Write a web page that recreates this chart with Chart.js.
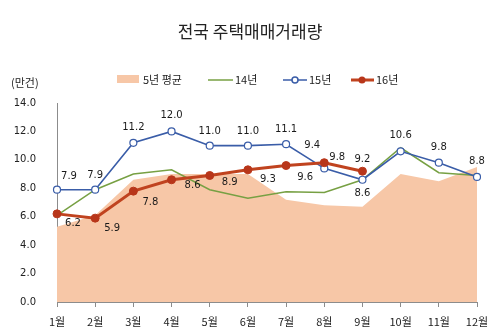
<!DOCTYPE html>
<html>
<head>
<meta charset="utf-8">
<script src="https://cdn.jsdelivr.net/npm/chart.js@4"></script>
<style>
  html, body { margin: 0; padding: 0; background: #fff; }
  #wrap { width: 500px; height: 336px; position: relative; }
</style>
</head>
<body>
<div id="wrap"><canvas id="tradeChart" width="500" height="336"></canvas></div>
<script>
// chart data (unit: 만건)
const months = ['1월', '2월', '3월', '4월', '5월', '6월', '7월', '8월', '9월', '10월', '11월', '12월'];
const avg5y = [5.3, 6.1, 8.6, 9.0, 9.0, 9.0, 7.2, 6.8, 6.7, 9.0, 8.5, 9.5];
const y2014 = [6.1, 7.9, 9.0, 9.3, 7.9, 7.3, 7.75, 7.7, 8.6, 10.85, 9.1, 8.9];
const y2015 = [7.9, 7.9, 11.2, 12.0, 11.0, 11.0, 11.1, 9.4, 8.6, 10.6, 9.8, 8.8];
const y2016 = [6.2, 5.9, 7.8, 8.6, 8.9, 9.3, 9.6, 9.8, 9.2];
const yTicks = [0, 2, 4, 6, 8, 10, 12, 14];

// where each value label sits relative to its point [dx, dy]
const offs2015 = [[12, -13], [0, -14], [0, -15], [0, -16], [0, -14], [0, -14], [0, -15], [-12, -23], [0, 14], [0, -16], [0, -15], [0, -16]];
const offs2016 = [[16, 10], [17, 10], [17, 11], [21, 6], [20, 7], [20, 10], [19, 12], [13, -5], [0, -12]];

const numFont = '"DejaVu Sans", sans-serif';
const korFont = '"Noto Sans CJK KR", sans-serif';

const valueLabels = {
    id: 'valueLabels',
    afterDatasetsDraw(chart) {
        const ctx = chart.ctx;
        ctx.save();
        ctx.font = '10px ' + numFont;
        ctx.fillStyle = '#1a1a1a';
        ctx.textAlign = 'center';
        ctx.textBaseline = 'middle';
        chart.data.datasets.forEach((ds, i) => {
            if (!ds.labelOffsets) return;
            const meta = chart.getDatasetMeta(i);
            meta.data.forEach((pt, j) => {
                const o = ds.labelOffsets[j];
                ctx.fillText(ds.data[j].toFixed(1), pt.x + o[0], pt.y + o[1]);
            });
        });
        ctx.restore();
    }
};

// title, unit and legend drawn by hand to match the original layout
const decorations = {
    id: 'decorations',
    afterDraw(chart) {
        const ctx = chart.ctx;
        ctx.save();
        ctx.fillStyle = '#222';
        ctx.textBaseline = 'middle';
        ctx.textAlign = 'center';
        ctx.font = '17px ' + korFont;
        ctx.fillText('전국 주택매매거래량', 250, 32);

        ctx.textAlign = 'left';
        ctx.font = '11px ' + korFont;
        ctx.fillText('(만건)', 11, 83);

        const ly = 80;
        ctx.fillStyle = '#F7C7A7';
        ctx.fillRect(117, 75, 22, 8);
        ctx.fillStyle = '#222';
        ctx.fillText('5년 평균', 143, ly);

        ctx.strokeStyle = '#77A043'; ctx.lineWidth = 1.5;
        ctx.beginPath(); ctx.moveTo(208, ly); ctx.lineTo(233, ly); ctx.stroke();
        ctx.fillText('14년', 235, ly);

        ctx.strokeStyle = '#3A5DA8';
        ctx.beginPath(); ctx.moveTo(283, ly); ctx.lineTo(307, ly); ctx.stroke();
        ctx.beginPath(); ctx.arc(295, ly, 3, 0, Math.PI * 2);
        ctx.fillStyle = '#fff'; ctx.fill(); ctx.stroke();
        ctx.fillStyle = '#222';
        ctx.fillText('15년', 309, ly);

        ctx.strokeStyle = '#C0431F'; ctx.lineWidth = 3;
        ctx.beginPath(); ctx.moveTo(351, ly); ctx.lineTo(374, ly); ctx.stroke();
        ctx.beginPath(); ctx.arc(362, ly, 3.5, 0, Math.PI * 2);
        ctx.fillStyle = '#B8361A'; ctx.fill();
        ctx.fillStyle = '#222';
        ctx.fillText('16년', 376, ly);
        ctx.restore();
    }
};

const ctx = document.getElementById('tradeChart').getContext('2d');
new Chart(ctx, {
    type: 'line',
    data: {
        labels: months,
        datasets: [
            {
                label: '16년', data: y2016, order: 1, labelOffsets: offs2016,
                borderColor: '#C0431F', borderWidth: 3,
                pointRadius: 4, pointBackgroundColor: '#B8361A', pointBorderColor: '#B8361A', pointBorderWidth: 1,
                tension: 0, fill: false
            },
            {
                label: '15년', data: y2015, order: 2, labelOffsets: offs2015,
                borderColor: '#3A5DA8', borderWidth: 1.6,
                pointRadius: 3.5, pointBackgroundColor: '#fff', pointBorderColor: '#3A5DA8', pointBorderWidth: 1.2,
                tension: 0, fill: false
            },
            {
                label: '14년', data: y2014, order: 3,
                borderColor: '#77A043', borderWidth: 1.5, pointRadius: 0,
                tension: 0, fill: false
            },
            {
                label: '5년 평균', data: avg5y, order: 4,
                borderWidth: 0, borderColor: 'rgba(0,0,0,0)', backgroundColor: '#F7C7A7',
                pointRadius: 0, tension: 0, fill: 'origin'
            }
        ]
    },
    options: {
        responsive: false, animation: false,
        layout: { padding: { top: 103, right: 23, left: 0, bottom: 0 } },
        plugins: { legend: { display: false }, title: { display: false }, tooltip: { enabled: false } },
        scales: {
            x: {
                offset: false,
                afterFit: (s) => { s.height = 34; },
                grid: { drawOnChartArea: false, drawTicks: true, tickLength: 5, color: '#8c8c8c' },
                border: { color: '#8c8c8c', width: 1 },
                ticks: { color: '#222', font: { family: korFont, size: 11 }, padding: 8, maxRotation: 0, autoSkip: false }
            },
            y: {
                min: 0, max: 14,
                afterFit: (s) => { s.width = 57; },
                afterBuildTicks: (s) => { s.ticks = yTicks.map(v => ({ value: v })); },
                grid: { display: false },
                border: { color: '#8c8c8c', width: 1 },
                ticks: { color: '#222', font: { family: numFont, size: 10 }, padding: 13, callback: (v) => Number(v).toFixed(1) }
            }
        }
    },
    plugins: [valueLabels, decorations]
});
</script>
</body>
</html>
